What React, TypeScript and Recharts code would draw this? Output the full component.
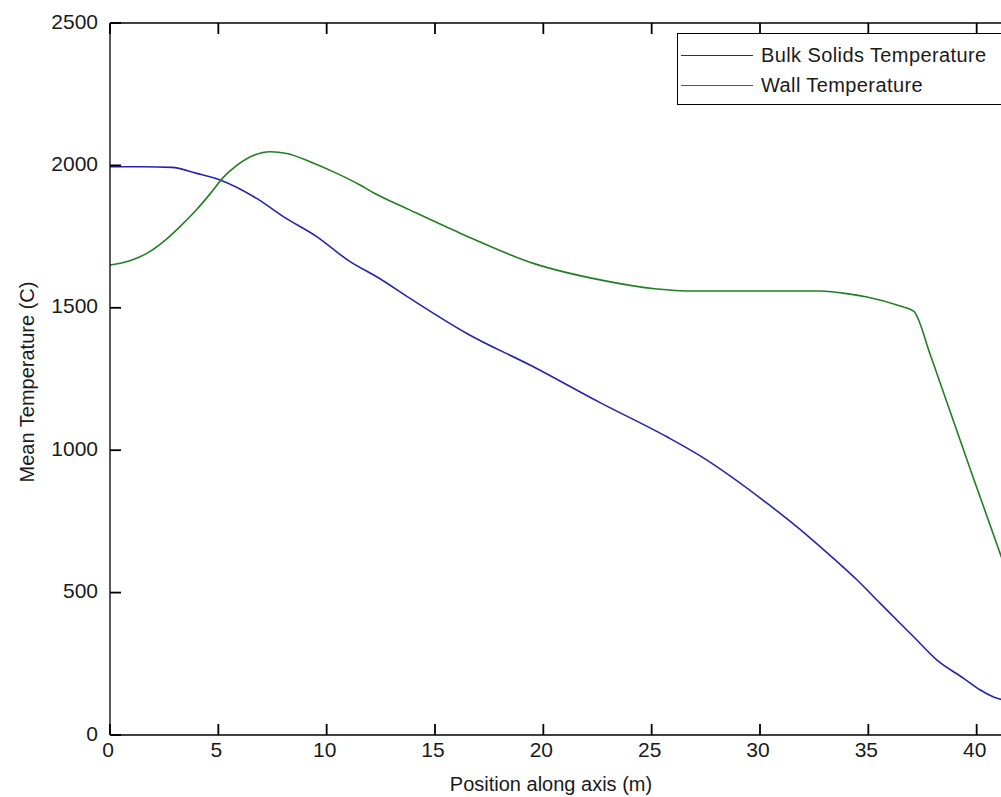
import { LineChart, Line, XAxis, YAxis, ReferenceLine } from "recharts";

// positions along the axis (m) and temperatures (C)
const bulkPos = [
  0, 1.5, 2.85, 4, 5.08, 6.77, 8, 9.54, 11.08, 12.31, 13.85, 16.47, 19.54,
  22.62, 25.7, 27.24, 30.32, 30.93, 32.16, 33.39, 34.47, 35.55, 37.09, 38.17,
  39.4, 40.17, 40.94, 41.5,
];
const bulkTemp = [
  1995, 1995, 1993, 1972, 1949, 1884, 1820, 1750, 1662, 1609, 1533, 1410, 1293,
  1167, 1047, 980, 814, 778, 702, 620, 545, 462, 345, 263, 199, 158, 129, 120,
];

const wallPos = [
  0, 0.92, 1.85, 2.62, 3.23, 4, 4.62, 5.23, 5.85, 6.62, 7.39, 8.16, 9.23, 10.47,
  11.54, 12.16, 13.85, 16.16, 19.54, 22.62, 25.24, 26.62, 32.78, 34.16, 34.94,
  36.47, 37.09, 37.86, 38.32, 39.4, 39.86, 40.63, 41.14, 41.5,
];
const wallTemp = [
  1650, 1665, 1698, 1742, 1785, 1845, 1900, 1958, 2000, 2035, 2048, 2042, 2013,
  1972, 1931, 1904, 1843, 1762, 1656, 1598, 1566, 1559, 1559, 1548, 1538, 1506,
  1488, 1335, 1235, 1000, 900, 735, 625, 548,
];

const seriesNames = ["Bulk Solids Temperature", "Wall Temperature"];
const seriesColors = ["#2424b0", "#217f21"];

const xTicks = [0, 5, 10, 15, 20, 25, 30, 35, 40];
const yTicks = [0, 500, 1000, 1500, 2000, 2500];
const X_MAX = 42;
const Y_MAX = 2500;

const bulkData = bulkPos.map((x, i) => ({ x, t: bulkTemp[i] }));
const wallData = wallPos.map((x, i) => ({ x, t: wallTemp[i] }));

const FONT = '"Liberation Sans", Arial, sans-serif';
const TICK_LEN = 11;
const AXIS_COLOR = "#000";
const TEXT_COLOR = "#1a1a1a";

// MATLAB style: tick marks point into the plot box
const BottomTick = ({ x, y, payload }: any) => (
  <g>
    <line x1={x} y1={y} x2={x} y2={y - TICK_LEN} stroke={AXIS_COLOR} strokeWidth={1.8} />
    <text x={x - 2} y={y + 22} textAnchor="middle" fontSize={21} fill={TEXT_COLOR} fontFamily={FONT}>
      {payload.value}
    </text>
  </g>
);

const LeftTick = ({ x, y, payload }: any) => (
  <g>
    <line x1={x} y1={y} x2={x + TICK_LEN} y2={y} stroke={AXIS_COLOR} strokeWidth={1.8} />
    <text x={x - 12} y={y + 5.5} textAnchor="end" fontSize={21} fill={TEXT_COLOR} fontFamily={FONT}>
      {payload.value}
    </text>
  </g>
);

// top tick length in data units (plot is 712px tall)
const topTickLen = (Y_MAX * TICK_LEN) / 712;

const textStyle = {
  position: "absolute" as const,
  fontFamily: FONT,
  fontSize: 20,
  color: TEXT_COLOR,
  whiteSpace: "nowrap" as const,
  lineHeight: "24px",
};

export default function App() {
  return (
    <div
      style={{
        position: "absolute",
        left: 0,
        top: 0,
        width: 1001,
        height: 797,
        overflow: "hidden",
        background: "#fff",
      }}
    >
      <LineChart
        width={1040}
        height={797}
        margin={{ top: 23, right: 20, bottom: 0, left: 0 }}
      >
        <XAxis
          dataKey="x"
          type="number"
          domain={[0, X_MAX]}
          ticks={xTicks}
          allowDataOverflow
          height={62}
          tickSize={0}
          tickMargin={0}
          tickLine={false}
          axisLine={{ stroke: AXIS_COLOR, strokeWidth: 1.3 }}
          tick={<BottomTick />}
        />
        <YAxis
          type="number"
          domain={[0, Y_MAX]}
          ticks={yTicks}
          allowDataOverflow
          width={110}
          tickSize={0}
          tickMargin={0}
          tickLine={false}
          axisLine={{ stroke: AXIS_COLOR, strokeWidth: 1.3 }}
          tick={<LeftTick />}
        />
        <ReferenceLine y={Y_MAX} stroke={AXIS_COLOR} strokeWidth={1.3} ifOverflow="visible" />
        {xTicks.map((t) => (
          <ReferenceLine
            key={`top-${t}`}
            segment={[
              { x: t, y: Y_MAX },
              { x: t, y: Y_MAX - topTickLen },
            ]}
            stroke={AXIS_COLOR}
            strokeWidth={1.8}
            ifOverflow="visible"
          />
        ))}
        <Line
          data={bulkData}
          dataKey="t"
          name={seriesNames[0]}
          type="monotone"
          stroke={seriesColors[0]}
          strokeWidth={1.6}
          dot={false}
          activeDot={false}
          isAnimationActive={false}
        />
        <Line
          data={wallData}
          dataKey="t"
          name={seriesNames[1]}
          type="monotone"
          stroke={seriesColors[1]}
          strokeWidth={1.6}
          dot={false}
          activeDot={false}
          isAnimationActive={false}
        />
      </LineChart>

      {/* axis titles */}
      <div style={{ ...textStyle, left: 551, top: 772, transform: "translateX(-50%)" }}>
        Position along axis (m)
      </div>
      <div
        style={{
          ...textStyle,
          left: 27,
          top: 382,
          transform: "translate(-50%, -50%) rotate(-90deg)",
        }}
      >
        Mean Temperature (C)
      </div>

      {/* legend box, its right edge runs past the picture like the original */}
      <div
        style={{
          position: "absolute",
          left: 677,
          top: 33,
          width: 360,
          height: 72,
          boxSizing: "border-box",
          border: "1.3px solid #000",
          background: "#fff",
          paddingTop: 6,
          fontFamily: FONT,
          fontSize: 20,
          color: TEXT_COLOR,
        }}
      >
        {seriesNames.map((name, i) => (
          <div key={name} style={{ display: "flex", alignItems: "center", height: 30 }}>
            <div style={{ width: 72, height: 0, borderTop: `1.6px solid ${seriesColors[i]}`, marginLeft: 3 }} />
            <span style={{ marginLeft: 8, letterSpacing: 0.4 }}>{name}</span>
          </div>
        ))}
      </div>
    </div>
  );
}
